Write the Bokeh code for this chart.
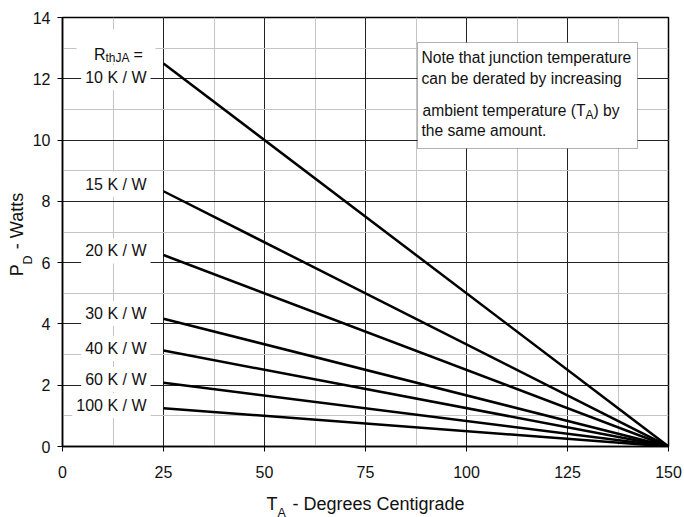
from bokeh.plotting import figure
from bokeh.models import Label, BoxAnnotation, SingleIntervalTicker, Range1d, ColumnDataSource
from bokeh.embed import file_html
from bokeh.resources import INLINE

# Thermal resistance junction-to-ambient (K/W) and the allowed dissipation at 25 °C
rth_ja = [10, 15, 20, 30, 40, 60, 100]
pd_at_25 = [12.5, 8.33, 6.25, 4.17, 3.13, 2.08, 1.25]
ta_start = [25, 25, 25, 25, 25, 25, 25]
ta_end = [150, 150, 150, 150, 150, 150, 150]
pd_at_end = [0, 0, 0, 0, 0, 0, 0]
curve_labels = [f"{r} K / W" for r in rth_ja]

x_ticks = [0, 25, 50, 75, 100, 125, 150]
y_ticks = [0, 2, 4, 6, 8, 10, 12, 14]

FONT = "Liberation Sans"
INK = "#111111"
NBSP = "\u00a0"
W, H = 684, 517
FL, FR, FT, FB = 62, 668, 17, 446  # plot frame edges in pixels
X0, X1, Y0, Y1 = 0, 150, 0, 14


def dx(px):
    """pixel column -> data x"""
    return X0 + (px - FL) / (FR - FL) * (X1 - X0)


def dy(py):
    """pixel row (from top) -> data y"""
    return Y0 + (FB - py) / (FB - FT) * (Y1 - Y0)


p = figure(width=W, height=H, x_range=Range1d(X0, X1), y_range=Range1d(Y0, Y1),
           output_backend="svg", toolbar_location=None,
           min_border_left=FL, min_border_right=W - FR,
           min_border_top=FT, min_border_bottom=H - FB)
p.background_fill_color = "white"
p.border_fill_color = "white"
p.outline_line_color = "black"
p.outline_line_width = 1.5

p.xaxis.ticker = SingleIntervalTicker(interval=25, num_minor_ticks=2)
p.yaxis.ticker = SingleIntervalTicker(interval=2, num_minor_ticks=2)

for ax in (p.xaxis[0], p.yaxis[0]):
    ax.axis_line_color = "black"
    ax.axis_line_width = 1.5
    ax.major_tick_line_color = "black"
    ax.major_tick_line_width = 1
    ax.major_tick_in = 0
    ax.major_tick_out = 5
    ax.minor_tick_line_color = None
    ax.major_label_text_font = FONT
    ax.major_label_text_font_size = "16px"
    ax.major_label_text_color = INK
    ax.axis_label_text_font = FONT
    ax.axis_label_text_font_size = "18px"
    ax.axis_label_text_font_style = "normal"
    ax.axis_label_text_color = INK
p.xaxis.major_label_standoff = 14
p.yaxis.major_label_standoff = 7
p.xaxis.axis_label_standoff = 13
p.yaxis.axis_label_standoff = 3
# the gap in each title takes the subscript drawn below
p.xaxis.axis_label = "T" + NBSP * 3 + "- Degrees Centigrade"
p.yaxis.axis_label = "P" + NBSP * 3 + "- Watts" + NBSP

for g in (p.xgrid[0], p.ygrid[0]):
    g.grid_line_color = "#222222"
    g.grid_line_width = 1
    g.minor_grid_line_color = "#c4c4c4"
    g.minor_grid_line_width = 1

# derating lines
src = ColumnDataSource(dict(x0=ta_start, y0=pd_at_25, x1=ta_end, y1=pd_at_end))
p.segment(x0="x0", y0="y0", x1="x1", y1="y1", source=src,
          line_color="black", line_width=2.5)

# curve labels, white-backed, right aligned just left of the 25 °C line
label_y = [12.04, 8.56, 6.38, 4.34, 3.19, 2.19, 1.34]
for txt, yy in zip(curve_labels, label_y):
    p.add_layout(Label(x=dx(150), y=yy, text=txt, text_align="right",
                       text_baseline="middle", text_font=FONT,
                       text_font_size="16px", text_color=INK,
                       background_fill_color="white", padding=4))

# R_thJA = header
p.add_layout(BoxAnnotation(left=dx(76), right=dx(155), top=dy(29), bottom=dy(63),
                           fill_color="white", fill_alpha=1, line_color=None))
p.add_layout(Label(x=dx(105), y=dy(54), text="R", text_align="right",
                   text_baseline="alphabetic", text_font=FONT,
                   text_font_size="16px", text_color=INK))
p.add_layout(Label(x=dx(105), y=dy(57), text="thJA", text_align="left",
                   text_baseline="alphabetic", text_font=FONT,
                   text_font_size="12px", text_color=INK))
p.add_layout(Label(x=dx(133), y=dy(54), text="=", text_align="left",
                   text_baseline="alphabetic", text_font=FONT,
                   text_font_size="16px", text_color=INK))

# note box
p.add_layout(BoxAnnotation(left=dx(417), right=dx(637), top=dy(42), bottom=dy(148),
                           fill_color="white", fill_alpha=1,
                           line_color="black", line_width=1))
note_kw = dict(text_baseline="middle", text_font=FONT,
               text_font_size="15.6px", text_color=INK)
p.add_layout(Label(x=dx(421), y=dy(57), text="Note that junction temperature",
                   text_align="left", **note_kw))
p.add_layout(Label(x=dx(421), y=dy(78), text="can be derated by increasing",
                   text_align="left", **note_kw))
p.add_layout(Label(x=dx(585), y=dy(110), text="ambient temperature (T",
                   text_align="right", **note_kw))
p.add_layout(Label(x=dx(585), y=dy(114), text="A", text_align="left",
                   text_baseline="middle", text_font=FONT,
                   text_font_size="12px", text_color=INK))
p.add_layout(Label(x=dx(593), y=dy(110), text=") by",
                   text_align="left", **note_kw))
p.add_layout(Label(x=dx(421), y=dy(130), text="the same amount.",
                   text_align="left", **note_kw))

# subscripts of the axis titles; kept in the side panels so they are not
# clipped to the frame, and placed in canvas pixels
sub_kw = dict(x_units="canvas", y_units="canvas", text_font=FONT,
              text_color=INK, text_baseline="alphabetic",
              text_font_size="12.5px", text_align="left")
p.add_layout(Label(x=277, y=512, text="A", **sub_kw), "above")
p.add_layout(Label(x=27, y=264, text="D", angle=1.5708, **sub_kw), "right")

open("out.html", "w").write(file_html(p, INLINE))
